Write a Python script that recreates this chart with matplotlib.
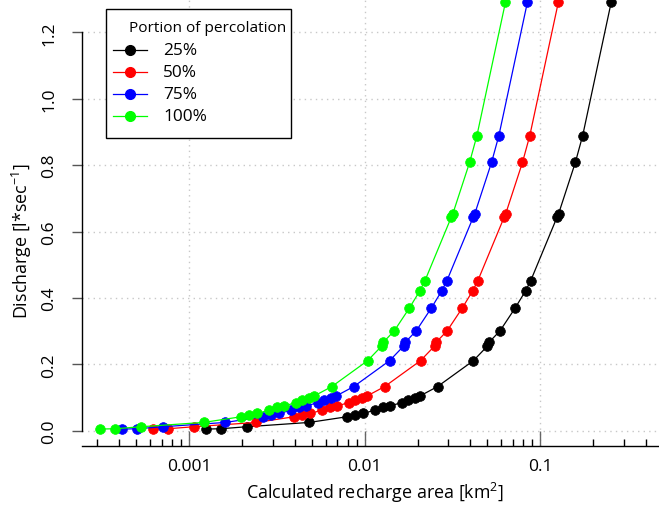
import matplotlib
matplotlib.use("Agg")
import matplotlib.pyplot as plt
from matplotlib.lines import Line2D
from matplotlib.patches import Rectangle
from matplotlib.ticker import FixedLocator, NullFormatter, FixedFormatter
from matplotlib.transforms import blended_transform_factory

plt.rcParams['font.family'] = ['Open Sans', 'DejaVu Sans']
plt.rcParams['mathtext.fontset'] = 'custom'
plt.rcParams['mathtext.rm'] = 'Open Sans'
plt.rcParams['mathtext.default'] = 'regular'

# ---------------- data ----------------
series_labels = ["25%", "50%", "75%", "100%"]
series_colors = ["#000000", "#FF0000", "#0000FF", "#00FF00"]

discharge = [0.005, 0.006, 0.012, 0.025, 0.042, 0.047, 0.052, 0.062, 0.070,
             0.074, 0.085, 0.092, 0.098, 0.105, 0.133, 0.211, 0.255, 0.267,
             0.301, 0.369, 0.422, 0.452, 0.643, 0.653, 0.808, 0.889, 1.290]

area_25 = [0.00125, 0.00152, 0.00213, 0.00484, 0.00791, 0.00883, 0.00981,
           0.01143, 0.01274, 0.01389, 0.01623, 0.0177, 0.0193, 0.0207, 0.0260,
           0.0416, 0.0500, 0.0512, 0.0590, 0.0718, 0.0826, 0.0882, 0.1245,
           0.1270, 0.1583, 0.1743, 0.2532]
area_50 = [0.000625, 0.00076, 0.001065, 0.00242, 0.003955, 0.004415, 0.004905,
           0.005715, 0.00637, 0.006945, 0.008115, 0.00885, 0.00965, 0.01035,
           0.0130, 0.0208, 0.0250, 0.0256, 0.0295, 0.0359, 0.0413, 0.0441,
           0.06225, 0.0635, 0.07915, 0.08715, 0.1266]
area_75 = [0.000417, 0.000507, 0.00071, 0.001613, 0.002637, 0.002943, 0.00327,
           0.00381, 0.004247, 0.00463, 0.00541, 0.0059, 0.006433, 0.0069,
           0.008667, 0.01387, 0.01667, 0.01707, 0.01967, 0.02393, 0.02753,
           0.0294, 0.0415, 0.04233, 0.05277, 0.0581, 0.0844]
area_100 = [0.0003125, 0.00038, 0.0005325, 0.00121, 0.0019775, 0.0022075,
            0.0024525, 0.0028575, 0.003185, 0.0034725, 0.0040575, 0.004425,
            0.004825, 0.005175, 0.0065, 0.0104, 0.0125, 0.0128, 0.01475,
            0.01795, 0.02065, 0.02205, 0.031125, 0.03175, 0.039575, 0.043575,
            0.0633]

y_ticks = [0.0, 0.2, 0.4, 0.6, 0.8, 1.0, 1.2]
y_tick_labels = ["0.0", "0.2", "0.4", "0.6", "0.8", "1.0", "1.2"]
x_major = [0.001, 0.01, 0.1]
x_major_labels = ["0.001", "0.01", "0.1"]

# ---------------- figure ----------------
W, H = 659, 506
fig = plt.figure(figsize=(W / 100, H / 100), dpi=100)

def fx(x):
    return x / W

def fy(y):
    return 1 - y / H

left_px, right_px, bottom_px, top_px = 81.7, 659.0, 447.0, -13.5
ax = fig.add_axes([fx(left_px), fy(bottom_px),
                   (right_px - left_px) / W, (bottom_px - top_px) / H])
ax.set_xscale('log')
ax.set_xlim(0.000245, 0.474)
ax.set_ylim(-0.046, 1.341)

# grid
grid_col = '#c8c8c8'
for yv in y_ticks:
    ax.axhline(yv, color=grid_col, lw=1.0, ls=(0, (1, 3)), zorder=0)
for xv in x_major:
    ax.axvline(xv, color=grid_col, lw=1.0, ls=(0, (1, 3)), zorder=0)

# series
all_areas = [area_25, area_50, area_75, area_100]
for areas, col in zip(all_areas, series_colors):
    ax.plot(areas, discharge, color=col, lw=0.9, marker='o', markersize=7.0,
            markeredgewidth=0.5, markerfacecolor=col, markeredgecolor=col,
            zorder=3, clip_on=False)

# spines
for s in ['top', 'right']:
    ax.spines[s].set_visible(False)
ax.spines['left'].set_bounds(0, 1.2)
ax.spines['left'].set_linewidth(1.0)
ax.spines['bottom'].set_linewidth(1.0)

# y ticks (labels drawn as rotated text at fixed distance from the axis)
ax.yaxis.set_major_locator(FixedLocator(y_ticks))
ax.yaxis.set_major_formatter(NullFormatter())
ax.tick_params(axis='y', direction='out', length=7.2, width=1.0,
               color='#555555')
ytrans = blended_transform_factory(fig.transFigure, ax.transData)
for yv, lab in zip(y_ticks, y_tick_labels):
    ax.text(fx(49), yv, lab, transform=ytrans, rotation=90, ha='center',
            va='center', fontsize=12.6, clip_on=False)

# x ticks
ax.xaxis.set_major_locator(FixedLocator(x_major))
ax.xaxis.set_major_formatter(FixedFormatter(x_major_labels))
minor = [m * d for d in [0.0001, 0.001, 0.01, 0.1] for m in range(2, 10)]
ax.xaxis.set_minor_locator(FixedLocator(minor))
ax.xaxis.set_minor_formatter(NullFormatter())
ax.tick_params(axis='x', which='major', direction='in', length=11, width=1.0,
               color='#666666', labelsize=12.6, pad=8.5)
ax.tick_params(axis='x', which='minor', direction='in', length=5.2, width=1.0,
               color='#000000')
for t in ax.xaxis.get_major_ticks():
    t.tick1line.set_linestyle((0, (2, 1.5)))

# axis titles
fig.text(fx(375), fy(493), "Calculated recharge area [km$^2$]",
         ha='center', va='center', fontsize=12.9)
fig.text(fx(22), fy(241), "Discharge [l*sec$^{-1}$]",
         ha='center', va='center', rotation=90, fontsize=12.9)

# legend (drawn by hand to match position)
lx0, ly0, lx1, ly1 = 106, 10, 291, 139
fig.patches.append(Rectangle((fx(lx0), fy(ly1)), (lx1 - lx0) / W, (ly1 - ly0) / H,
                             transform=fig.transFigure, facecolor='white',
                             edgecolor='black', lw=1.0, zorder=5))
fig.text(fx(129), fy(28), "Portion of percolation", ha='left', va='center',
         fontsize=11.1, zorder=6)
entry_y = [51, 73, 95, 117]
for lab, col, yy in zip(series_labels, series_colors, entry_y):
    fig.lines.append(Line2D([fx(113), fx(147)], [fy(yy), fy(yy)],
                            transform=fig.transFigure, color=col, lw=0.9,
                            zorder=6))
    fig.lines.append(Line2D([fx(130)], [fy(yy)], transform=fig.transFigure,
                            color=col, marker='o', markersize=7.0, lw=0,
                            zorder=7))
    fig.text(fx(163), fy(yy), lab, ha='left', va='center', fontsize=12.4,
             zorder=6)

fig.savefig("out.png", dpi=100)
